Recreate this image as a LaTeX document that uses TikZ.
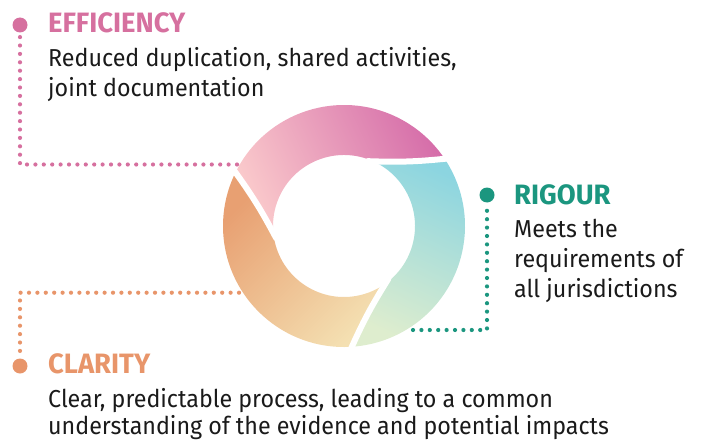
\documentclass[tikz,border=0pt]{standalone}
\usepackage{fontspec}
\setmainfont{Fira Sans}[FakeStretch=0.95]
\newfontfamily\titlefont{Fira Sans}[FakeStretch=0.98, UprightFont=* Bold]
\definecolor{pinkC}{HTML}{D6709F}
\definecolor{tealC}{HTML}{1B967F}
\definecolor{orangeC}{HTML}{E8956A}
\definecolor{bodyC}{HTML}{1A1A1A}
\definecolor{pinkA}{HTML}{FAC9CB}
\definecolor{pinkB}{HTML}{D56CA9}
\definecolor{tealA}{HTML}{8CD5E0}
\definecolor{tealB}{HTML}{DEEDCE}
\definecolor{orA}{HTML}{E8A072}
\definecolor{orB}{HTML}{F4E0B2}
\tikzset{
  dotline/.style={line width=4.2pt, line cap=round, dash pattern=on 0pt off 8.4pt},
  bigdot/.style={circle, inner sep=0pt, minimum size=15pt},
  title/.style={anchor=base west, inner sep=0pt, font=\titlefont\fontsize{28}{30}\selectfont},
  body/.style={anchor=base west, inner sep=0pt, text=bodyC, font=\fontsize{24.5}{29.5}\selectfont},
  gap/.style={white, line width=6pt, line cap=round}
}
\begin{document}
\begin{tikzpicture}[x=1pt,y=-1pt]
\useasboundingbox (0,0) rectangle (703,441);
% ring
\begin{scope}[shift={(344,226)}, yscale=-1]
  \def\Ri{71}\def\Ro{121}
  % pink
  \shade[top color=pinkB, bottom color=pinkA, shading angle=-65]
    (-170:\Ri) to[bend left=4] (153:\Ro) arc[start angle=153, end angle=33, radius=\Ro]
    to[bend right=4] (70:\Ri) arc[start angle=70, end angle=190, radius=\Ri] -- cycle;
  % teal
  \shade[top color=tealA, bottom color=tealB, shading angle=-25]
    (70:\Ri) to[bend left=4] (33:\Ro) arc[start angle=33, end angle=-87, radius=\Ro]
    to[bend right=4] (-50:\Ri) arc[start angle=-50, end angle=70, radius=\Ri] -- cycle;
  % orange
  \shade[top color=orA, bottom color=orB, shading angle=45]
    (-50:\Ri) to[bend left=4] (-87:\Ro) arc[start angle=-87, end angle=-207, radius=\Ro]
    to[bend right=4] (-170:\Ri) arc[start angle=-170, end angle=-50, radius=\Ri] -- cycle;
  % gaps
  \coordinate (g0a) at (70:\Ri-2); \coordinate (g0b) at (33:\Ro+3);
  \coordinate (g1a) at (-50:\Ri-2); \coordinate (g1b) at (-87:\Ro+3);
  \coordinate (g2a) at (-170:\Ri-2); \coordinate (g2b) at (-207:\Ro+3);
  \draw[gap] (g0a) to[bend left=4] (g0b);
  \draw[gap] (g1a) to[bend left=4] (g1b);
  \draw[gap] (g2a) to[bend left=4] (g2b);
\end{scope}
% anchor coordinates for connectors
\coordinate (pEnd) at (237,164.5);
\coordinate (pCorner) at (20,164.5);
\coordinate (tEnd) at (413,330);
\coordinate (tCorner) at (487,330);
\coordinate (oEnd) at (239,292.7);
\coordinate (oCorner) at (20,292.7);
% big dots
\node[bigdot, fill=pinkC] (pDot) at (20,25) {};
\node[bigdot, fill=tealC] (tDot) at (487,195) {};
\node[bigdot, fill=orangeC] (oDot) at (20,366) {};
% dotted connectors
\draw[dotline, pinkC] (pEnd) -- (pCorner) -- (pDot.south);
\draw[dotline, tealC] (tEnd) -- (tCorner) -- (tDot.south);
\draw[dotline, orangeC] (oEnd) -- (oCorner) -- (oDot.north);
% texts
\node[title, text=pinkC] (pTitle) at (48,33) {EFFICIENCY};
\node[body] (pL1) at (48,67) {Reduced duplication, shared activities,};
\node[body] (pL2) at (48,97) {joint documentation};
\node[title, text=tealC] (tTitle) at (514,204) {RIGOUR};
\node[body] (tL1) at (514,237) {Meets the};
\node[body] (tL2) at (514,267) {requirements of};
\node[body] (tL3) at (514,297) {all jurisdictions};
\node[title, text=orangeC] (oTitle) at (48,373) {CLARITY};
\node[body] (oL1) at (48,407) {Clear, predictable process, leading to a common};
\node[body] (oL2) at (48,434.5) {understanding of the evidence and potential impacts};
\end{tikzpicture}
\end{document}
